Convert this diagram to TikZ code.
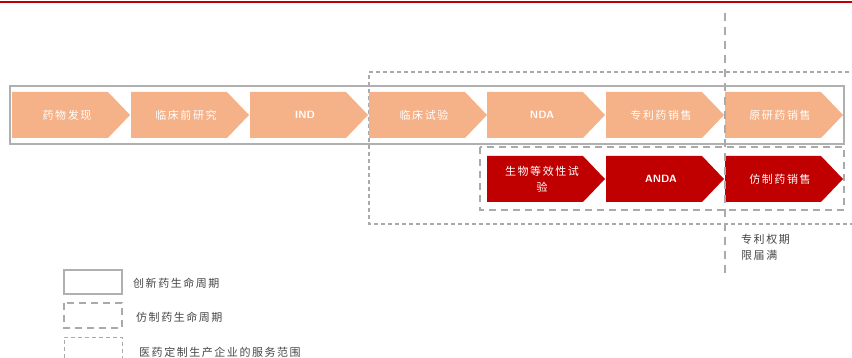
\documentclass[tikz,border=0pt]{standalone}
\usepackage{fontspec}
\newfontfamily\cjk[LetterSpace=14]{Noto Sans CJK SC}
\usetikzlibrary{calc}
\definecolor{peach}{RGB}{245,177,136}
\definecolor{deepred}{RGB}{192,0,0}
\definecolor{boxgray}{RGB}{176,176,176}
\definecolor{dashgray}{RGB}{170,170,170}
\definecolor{txtgray}{RGB}{70,70,70}
\tikzset{
  stagetext/.style={text=white,font=\cjk\fontsize{11}{16}\selectfont,align=center,inner sep=0pt},
  latintext/.style={text=white,font=\sffamily\bfseries\fontsize{10.5}{12}\selectfont,inner sep=0pt},
  innovbox/.style={draw=boxgray,line width=1.6pt},
  genbox/.style={draw=dashgray,line width=1.3pt,dash pattern=on 7pt off 5pt},
  svcbox/.style={draw=dashgray,line width=1.2pt,dash pattern=on 4pt off 3pt},
  vline/.style={draw=dashgray,line width=1.3pt,dash pattern=on 8pt off 6pt},
  legtext/.style={text=txtgray,font=\cjk\fontsize{11}{16}\selectfont,anchor=west,inner sep=0pt},
}
\newcommand\chev[6]{% name, left x, top y, colour, text style, text
  \fill[#4] (#2,#3) -- ++(96,0) -- ++(22,23) -- ++(-22,23) -- ++(-96,0) -- cycle;
  \node[#5] (#1) at ($(#2,#3)+(55,23)$) {#6};}
\begin{document}
\begin{tikzpicture}[x=1pt,y=-1pt]
\useasboundingbox[fill=white] (0,0) rectangle (852,358);
% top red rule
\draw[draw=deepred,line width=1.3pt] (0,2) -- (852,2);
% service scope box (extends beyond right edge)
\draw[svcbox] (870,72) -- (369,72) -- (369,224) -- (870,224);
% innovation lifecycle
\draw[innovbox] (10,86) rectangle (844,144);
% generic lifecycle
\draw[genbox] (480,147) rectangle (844,210);
% row 1
\chev{s1}{12}{92}{peach}{stagetext}{药物发现}
\chev{s2}{131}{92}{peach}{stagetext}{临床前研究}
\chev{s3}{250}{92}{peach}{latintext}{IND}
\chev{s4}{369}{92}{peach}{stagetext}{临床试验}
\chev{s5}{487}{92}{peach}{latintext}{NDA}
\chev{s6}{606}{92}{peach}{stagetext}{专利药销售}
\chev{s7}{725}{92}{peach}{stagetext}{原研药销售}
% row 2
\chev{g1}{487}{156}{deepred}{stagetext}{生物等效性试\\验}
\chev{g2}{606}{156}{deepred}{latintext}{ANDA}
\chev{g3}{725}{156}{deepred}{stagetext}{仿制药销售}
% patent expiry line
\coordinate (vt) at (725,13);
\coordinate (vb) at (725,278);
\draw[vline] (vt) -- (vb);
\node[legtext,align=left,anchor=north west] (exp) at (741,234) {专利权期\\限届满};
% legend
\draw[innovbox,line width=1.3pt] (64,270) rectangle (122,294);
\node[legtext] (l1) at (133,283) {创新药生命周期};
\draw[genbox,line width=1.1pt] (64,303) rectangle (122,328);
\node[legtext] (l2) at (136,317) {仿制药生命周期};
\draw[svcbox,line width=1pt] (64,365) -- (64,337) -- (122,337) -- (122,365);
\node[legtext] (l3) at (139,352) {医药定制生产企业的服务范围};
\end{tikzpicture}
\end{document}
